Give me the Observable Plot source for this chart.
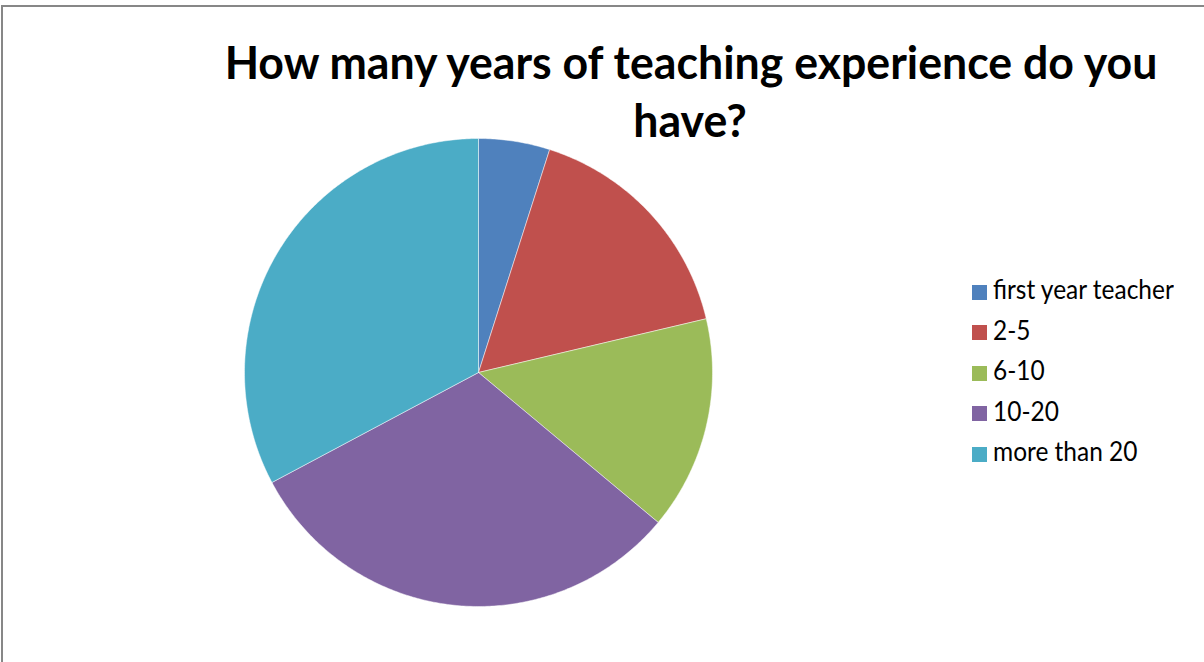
<!DOCTYPE html>
<html>
<head>
<meta charset="utf-8">
<script src="https://cdn.jsdelivr.net/npm/d3@7"></script>
<script src="https://cdn.jsdelivr.net/npm/@observablehq/plot@0.6"></script>
<style>
  html, body { margin: 0; padding: 0; background: #fff; }
  #wrap { position: relative; width: 1204px; height: 662px; overflow: hidden; background: #fff; }
  #frame { position: absolute; left: 1px; top: 5px; width: 1300px; height: 800px; border-left: 2px solid #878787; border-top: 2px solid #878787; box-sizing: border-box; }
  .title { position: absolute; font-family: Lato, "Open Sans", sans-serif; font-weight: bold; color: #000; white-space: nowrap; line-height: 1; }
  .leg { position: absolute; font-family: Lato, "Open Sans", sans-serif; color: #000; white-space: nowrap; line-height: 1; }
  .sw { position: absolute; width: 15px; height: 15px; }
  svg { position: absolute; left: 0; top: 0; }
</style>
</head>
<body>
<div id="wrap"><div id="frame"></div></div>
<script>
// ---- data ----
const categories = ["first year teacher", "2-5", "6-10", "10-20", "more than 20"];
const counts = [3, 10, 9, 19, 20];
const colors = ["#4F81BD", "#C0504D", "#9BBB59", "#8064A2", "#4BACC6"];
const titleLines = ["How many years of teaching experience do you", "have?"];

// ---- build slice outlines from d3.pie angles ----
const pie = d3.pie().sort(null).value(d => d.count);
const arcs = pie(categories.map((c, i) => ({cat: c, count: counts[i]})));
const pts = [];
for (const a of arcs) {
  const cat = a.data.cat;
  pts.push({cat, x: 0, y: 0});
  const n = Math.max(2, Math.ceil((a.endAngle - a.startAngle) / 0.01));
  for (let k = 0; k <= n; k++) {
    const t = a.startAngle + (a.endAngle - a.startAngle) * k / n;
    pts.push({cat, x: Math.sin(t), y: Math.cos(t)});
  }
  pts.push({cat, x: 0, y: 0});
}

const cx = 478, cy = 372, R = 234, W = 1204, H = 662;
const chart = Plot.plot({
  width: W, height: H,
  marginLeft: cx - R, marginRight: W - (cx + R),
  marginTop: cy - R, marginBottom: H - (cy + R),
  x: {domain: [-1, 1], axis: null},
  y: {domain: [-1, 1], axis: null},
  color: {domain: categories, range: colors},
  style: {background: "transparent"},
  marks: [
    Plot.line(pts, {x: "x", y: "y", z: "cat", fill: "cat", stroke: "#ffffff", strokeWidth: 0.8, strokeOpacity: 0.6, curve: "linear-closed"})
  ]
});
const wrap = document.getElementById("wrap");
wrap.appendChild(chart);

// ---- text fitting ----
const ctx = document.createElement("canvas").getContext("2d");
function fitSize(text, weight, family, target) {
  ctx.font = `${weight} 100px ${family}`;
  return 100 * target / ctx.measureText(text).width;
}
const fam = "Lato";
const BASE = 0.887; // Lato baseline offset within a line-height:1 box
const tSize = fitSize(titleLines[0], "bold", fam, 938);
const tPos = [{x: 691, base: 80}, {x: 690, base: 138}];
titleLines.forEach((line, i) => {
  const d = document.createElement("div");
  d.className = "title";
  d.textContent = line;
  d.style.fontSize = tSize + "px";
  d.style.left = tPos[i].x + "px";
  d.style.top = (tPos[i].base - tSize * BASE) + "px";
  d.style.transformOrigin = `0 ${tSize * BASE}px`;
  d.style.transform = "translateX(-50%) scaleY(1.04)";
  wrap.appendChild(d);
});

const lSize = fitSize(categories[0], "normal", fam, 182);
const rowY = [292, 332.5, 373, 413.5, 454];
categories.forEach((c, i) => {
  const s = document.createElement("div");
  s.className = "sw";
  s.style.background = colors[i];
  s.style.left = "972px";
  s.style.top = (rowY[i] - 7.5) + "px";
  wrap.appendChild(s);
  const t = document.createElement("div");
  t.className = "leg";
  t.textContent = c;
  t.style.fontSize = lSize + "px";
  t.style.left = "993px";
  t.style.top = (rowY[i] + 8 - lSize * BASE) + "px";
  t.style.transformOrigin = `0 ${lSize * BASE}px`;
  t.style.transform = "scaleY(1.12)";
  wrap.appendChild(t);
});
</script>
</body>
</html>
